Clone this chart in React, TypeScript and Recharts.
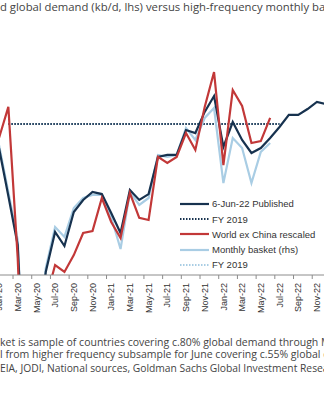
import React from "react";
import { LineChart, Line, XAxis, YAxis, Legend } from "recharts";

// monthly categories, Jan-20 .. Dec-22
const months = [
  "Jan-20", "Feb-20", "Mar-20", "Apr-20", "May-20", "Jun-20",
  "Jul-20", "Aug-20", "Sep-20", "Oct-20", "Nov-20", "Dec-20",
  "Jan-21", "Feb-21", "Mar-21", "Apr-21", "May-21", "Jun-21",
  "Jul-21", "Aug-21", "Sep-21", "Oct-21", "Nov-21", "Dec-21",
  "Jan-22", "Feb-22", "Mar-22", "Apr-22", "May-22", "Jun-22",
  "Jul-22", "Aug-22", "Sep-22", "Oct-22", "Nov-22", "Dec-22"
];

// 6-Jun-22 published global demand, kb/d (lhs)
const published = [
  98410, 95230, 91990, 79500, 84000, 90200,
  92850, 91920, 94170, 94970, 95500, 95360,
  94110, 92780, 95630, 94970, 95360, 97820,
  97950, 97950, 99600, 99400, 100800, 101850,
  98480, 100130, 98940, 98080, 98410, 99070,
  99800, 100600, 100600, 100990, 101460, 101320
];

// World ex China rescaled, kb/d (lhs), to Jun-22
const worldExChina = [
  99070, 101130, 91130, 76000, 80000, 88340,
  90660, 90200, 91320, 92780, 92910, 95100,
  93510, 92450, 95430, 93780, 93640, 97820,
  97420, 97820, 99400, 98280, 101130, 103440,
  97280, 102250, 101190, 98740, 98870, 100400
];

// Monthly basket (rhs), to Jun-22
const monthlyBasket = [
  98610, 95500, 92320, 79000, 83500, 90460,
  93180, 92520, 94440, 95100, 95300, 95300,
  93840, 91720, 95500, 94640, 95100, 97950,
  97820, 97950, 99740, 98940, 100400, 101060,
  96090, 99070, 98410, 96090, 98150, 98740
];

// FY 2019 levels and the span they are drawn over
const fy2019Lhs = 100000;
const fy2019Rhs = 100000;
const fyFrom = "Feb-20";
const fyTo = "Jul-22";

const fyStart = months.indexOf(fyFrom);
const fyEnd = months.indexOf(fyTo);

const data = months.map((month, i) => ({
  month,
  published: published[i],
  worldExChina: i < worldExChina.length ? worldExChina[i] : null,
  basket: i < monthlyBasket.length ? monthlyBasket[i] : null,
  fyLhs: i >= fyStart && i <= fyEnd ? fy2019Lhs : null,
  fyRhs: i >= fyStart && i <= fyEnd ? fy2019Rhs : null
}));

const NAVY = "#17324f";
const RED = "#c23838";
const LIGHT = "#a9cde4";

const legendItems = [
  { name: "6-Jun-22 Published", color: NAVY, dotted: false },
  { name: "FY 2019", color: NAVY, dotted: true },
  { name: "World ex China rescaled", color: RED, dotted: false },
  { name: "Monthly basket (rhs)", color: LIGHT, dotted: false },
  { name: "FY 2019", color: LIGHT, dotted: true }
];

const CHART_W = 327.25;
const HALF_STEP = CHART_W / (months.length - 1) / 2;

const MonthTick = (props: any) => {
  const { x, y, payload } = props;
  return (
    <g>
      <line x1={x - HALF_STEP} x2={x - HALF_STEP} y1={y - 8} y2={y - 4} stroke="#8c8c8c" />
      <text
        transform={`translate(${x},${y}) rotate(-90)`}
        textAnchor="end"
        dy="0.35em"
        fontSize={9}
        fontFamily="'Liberation Sans Narrow', 'Arial Narrow', sans-serif"
        fill="#333"
      >
        {payload.value}
      </text>
    </g>
  );
};

const renderLegend = () => (
  <div style={{ fontFamily: "'Liberation Sans', Arial, sans-serif", fontSize: 9.5, color: "#333" }}>
    {legendItems.map((item, i) => (
      <div key={i} style={{ display: "flex", alignItems: "center", height: 15.2, whiteSpace: "nowrap" }}>
        <svg width={32} height={4} style={{ flex: "none" }}>
          <line
            x1={0}
            y1={2}
            x2={29}
            y2={2}
            stroke={item.color}
            strokeWidth={2.2}
            strokeDasharray={item.dotted ? "1.5 1.5" : undefined}
          />
        </svg>
        <span>{item.name}</span>
      </div>
    ))}
  </div>
);

const textFont = "'Open Sans', sans-serif";

export default function App() {
  return (
    <div
      style={{
        position: "fixed",
        left: 0,
        top: 0,
        width: 324,
        height: 400,
        overflow: "hidden",
        background: "#fff"
      }}
    >
      <div
        style={{
          position: "absolute",
          left: 0,
          top: 0,
          fontFamily: textFont,
          fontSize: 11.3,
          lineHeight: "14px",
          color: "#444",
          whiteSpace: "nowrap"
        }}
      >
        d global demand (kb/d, lhs) versus high-frequency monthly basket (rhs)
      </div>

      <div style={{ position: "absolute", left: -1.5, top: 0 }}>
        <LineChart
          width={CHART_W}
          height={315}
          data={data}
          margin={{ top: 48.5, right: 0, bottom: 0, left: 0 }}
        >
          <XAxis
            dataKey="month"
            interval={1}
            height={40}
            tickLine={false}
            tickSize={0}
            tickMargin={8}
            axisLine={{ stroke: "#8c8c8c" }}
            tick={<MonthTick />}
          />
          <YAxis yAxisId="lhs" hide domain={[90000, 105000]} allowDataOverflow />
          <YAxis yAxisId="rhs" orientation="right" hide domain={[90000, 105000]} allowDataOverflow />
          <Legend
            layout="vertical"
            align="center"
            verticalAlign="middle"
            content={renderLegend}
            wrapperStyle={{ left: 181.5, top: 196.4, width: 200 }}
          />
          <Line yAxisId="rhs" dataKey="fyRhs" stroke={LIGHT} strokeWidth={2} strokeDasharray="1.5 1.5" dot={false} isAnimationActive={false} />
          <Line yAxisId="lhs" dataKey="fyLhs" stroke={NAVY} strokeWidth={2} strokeDasharray="1.5 1.5" dot={false} isAnimationActive={false} />
          <Line yAxisId="rhs" dataKey="basket" stroke={LIGHT} strokeWidth={2.2} dot={false} isAnimationActive={false} />
          <Line yAxisId="lhs" dataKey="published" stroke={NAVY} strokeWidth={2.2} dot={false} isAnimationActive={false} />
          <Line yAxisId="lhs" dataKey="worldExChina" stroke={RED} strokeWidth={2.2} dot={false} isAnimationActive={false} />
        </LineChart>
      </div>

      <div
        style={{
          position: "absolute",
          left: 0,
          top: 336,
          fontFamily: textFont,
          fontSize: 10.5,
          lineHeight: "12px",
          color: "#444",
          whiteSpace: "nowrap"
        }}
      >
        <div>ket is sample of countries covering c.80% global demand through May-22</div>
        <div>l from higher frequency subsample for June covering c.55% global demand</div>
      </div>
      <div
        style={{
          position: "absolute",
          left: 0,
          top: 362,
          fontFamily: textFont,
          fontSize: 10.3,
          lineHeight: "12px",
          color: "#444",
          whiteSpace: "nowrap"
        }}
      >
        EIA, JODI, National sources, Goldman Sachs Global Investment Research
      </div>
    </div>
  );
}
